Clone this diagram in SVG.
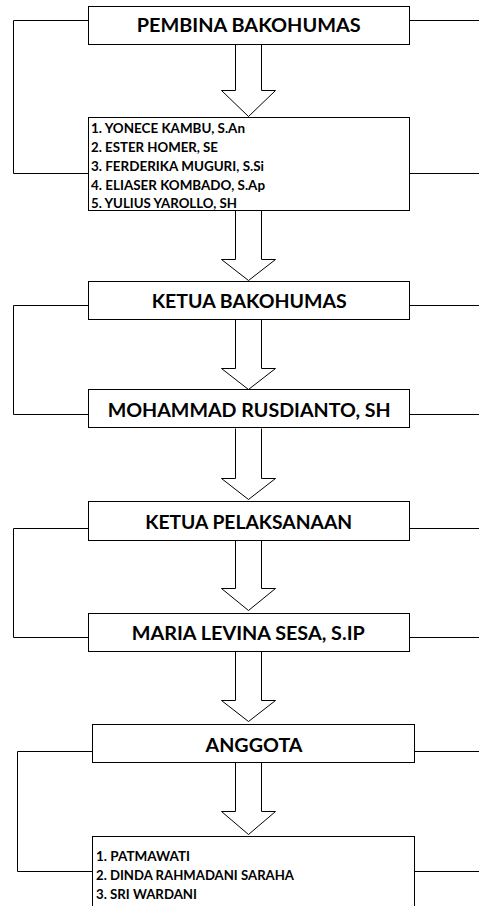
<svg xmlns="http://www.w3.org/2000/svg" width="479" height="906" viewBox="0 0 479 906">
<style>
.box{fill:#fff;stroke:#000;stroke-width:1}
.arr{fill:#fff;stroke:#000;stroke-width:1;stroke-linejoin:miter}
.con{fill:none;stroke:#000;stroke-width:1}
.t{font-family:Lato,"Liberation Sans",sans-serif;font-weight:bold;font-size:19px;fill:#000;text-anchor:middle}
.l{font-family:Lato,"Liberation Sans",sans-serif;font-weight:bold;font-size:13px;fill:#000}
</style>
<rect width="479" height="906" fill="#fff"/>
<g id="connectors">
<path class="con" d="M88.5,20.5H13.5V173.5H88.5M409.5,20.5H480M409.5,173.5H480"/>
<path class="con" d="M88.5,305.5H13.5V414.5H88.5M409.5,305.5H480M409.5,414.5H480"/>
<path class="con" d="M88.5,528.5H13.5V637.5H88.5M409.5,528.5H480M409.5,637.5H480"/>
<path class="con" d="M92.5,751.5H17.5V871.5H92.5M414.5,751.5H480M414.5,871.5H480"/>
<path class="arr" d="M235.5,44.5V90.5H221.5L248.5,116.5L275.5,90.5H261.5V44.5"/>
<path class="arr" d="M235.5,210.5V259.5H221.5L248.5,280.5L275.5,259.5H261.5V210.5"/>
<path class="arr" d="M235.5,319.5V368.5H221.5L248.5,389.5L275.5,368.5H261.5V319.5"/>
<path class="arr" d="M235.5,428.5V478.5H221.5L248.5,499.5L275.5,478.5H261.5V428.5"/>
<path class="arr" d="M235.5,540.5V588.5H221.5L248.5,610.5L275.5,588.5H261.5V540.5"/>
<path class="arr" d="M235.5,651.5V700.5H221.5L248.5,721.5L275.5,700.5H261.5V651.5"/>
<path class="arr" d="M235.5,762.5V811.5H221.5L248.5,834.5L275.5,811.5H261.5V762.5"/>
</g>
<g id="pembina">
<rect class="box" x="88.5" y="6.5" width="321" height="38"/>
<text class="t" x="248.7" y="32.3" textLength="224" lengthAdjust="spacingAndGlyphs">PEMBINA BAKOHUMAS</text>
</g>
<g id="pembina-list">
<rect class="box" x="88.5" y="117.5" width="321" height="93"/>
<text class="l" x="91" y="132.5" textLength="154" lengthAdjust="spacingAndGlyphs">1. YONECE KAMBU, S.An</text>
<text class="l" x="91" y="151.5" textLength="127" lengthAdjust="spacingAndGlyphs">2. ESTER HOMER, SE</text>
<text class="l" x="91" y="170.5" textLength="173" lengthAdjust="spacingAndGlyphs">3. FERDERIKA MUGURI, S.Si</text>
<text class="l" x="91" y="189.5" textLength="174" lengthAdjust="spacingAndGlyphs">4. ELIASER KOMBADO, S.Ap</text>
<text class="l" x="91" y="208" textLength="146" lengthAdjust="spacingAndGlyphs">5. YULIUS YAROLLO, SH</text>
</g>
<g id="ketua-bakohumas">
<rect class="box" x="88.5" y="281.5" width="321" height="38"/>
<text class="t" x="249.2" y="308.3" textLength="195" lengthAdjust="spacingAndGlyphs">KETUA BAKOHUMAS</text>
</g>
<g id="mohammad">
<rect class="box" x="88.5" y="389.5" width="321" height="38"/>
<text class="t" x="249.2" y="416.8" textLength="283" lengthAdjust="spacingAndGlyphs">MOHAMMAD RUSDIANTO, SH</text>
</g>
<g id="ketua-pelaksanaan">
<rect class="box" x="88.5" y="501.5" width="321" height="39"/>
<text class="t" x="248.7" y="529" textLength="207" lengthAdjust="spacingAndGlyphs">KETUA PELAKSANAAN</text>
</g>
<g id="maria">
<rect class="box" x="88.5" y="613.5" width="321" height="38"/>
<text class="t" x="248.3" y="640" textLength="233" lengthAdjust="spacingAndGlyphs">MARIA LEVINA SESA, S.IP</text>
</g>
<g id="anggota">
<rect class="box" x="92.5" y="724.5" width="322" height="38"/>
<text class="t" x="254" y="751.7" textLength="97" lengthAdjust="spacingAndGlyphs">ANGGOTA</text>
</g>
<g id="anggota-list">
<rect class="box" x="92.5" y="836.5" width="322" height="80"/>
<text class="l" x="96" y="861" textLength="94" lengthAdjust="spacingAndGlyphs">1. PATMAWATI</text>
<text class="l" x="96" y="880" textLength="198" lengthAdjust="spacingAndGlyphs">2. DINDA RAHMADANI SARAHA</text>
<text class="l" x="96" y="899" textLength="101" lengthAdjust="spacingAndGlyphs">3. SRI WARDANI</text>
</g>
</svg>
